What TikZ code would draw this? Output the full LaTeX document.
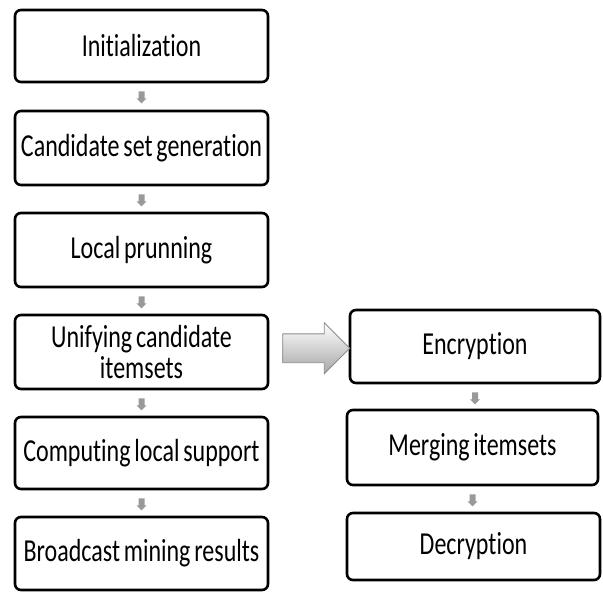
\documentclass[tikz,border=0pt]{standalone}
\usepackage{fontspec}
\setmainfont{Carlito}[FakeStretch=0.75,Ligatures=NoCommon,WordSpace=0.7]
\usetikzlibrary{shapes.arrows,calc}
\newcommand\flowdown[1]{%
  \fill[arrowgray] ($(#1.south)+(-3,8)$) -- ++(6,0) -- ++(0,7) -- ++(2,0) -- ++(-5,5) -- ++(-5,-5) -- ++(2,0) -- cycle;}
\begin{document}
\begin{tikzpicture}[x=1pt,y=-1pt,
  stepbox/.style={draw=black,line width=2.6pt,rounded corners=6pt,fill=white,
    align=center,inner sep=0pt,font=\fontsize{32}{31}\selectfont},
  arrowgray/.style={fill=black!40},
  bigarrow/.style={single arrow,draw=black!45,line width=0.8pt,top color=white,bottom color=black!35,
    minimum height=67pt,inner xsep=0pt,inner ysep=14pt,single arrow head extend=11pt,
    single arrow tip angle=90}]
\useasboundingbox (0,0) rectangle (603,592);
\node[stepbox,minimum width=253pt,minimum height=72pt] (s1) at (141.5,46) {Initialization};
\node[stepbox,minimum width=253pt,minimum height=74pt] (s2) at (141.5,148) {Candidate set generation};
\node[stepbox,minimum width=253pt,minimum height=74pt] (s3) at (141.5,250) {Local prunning};
\node[stepbox,minimum width=253pt,minimum height=74pt] (s4) at (141.5,352) {Unifying candidate\\itemsets};
\node[stepbox,minimum width=253pt,minimum height=72pt] (s5) at (141.5,453) {Computing local support};
\node[stepbox,minimum width=253pt,minimum height=73pt] (s6) at (141.5,553.5) {Broadcast mining results};
\node[stepbox,minimum width=250pt,minimum height=73pt] (e1) at (475,346.5) {Encryption};
\node[stepbox,minimum width=251pt,minimum height=75pt] (e2) at (472.5,447.5) {Merging itemsets};
\node[stepbox,minimum width=253pt,minimum height=67pt] (e3) at (473.5,546.5) {Decryption};
\flowdown{s1}
\flowdown{s2}
\flowdown{s3}
\flowdown{s4}
\flowdown{s5}
\flowdown{e1}
\flowdown{e2}
\node[bigarrow] (big) at ($(s4.east)!0.5!(e1.west)+(0,-1)$) {};
\end{tikzpicture}
\end{document}
